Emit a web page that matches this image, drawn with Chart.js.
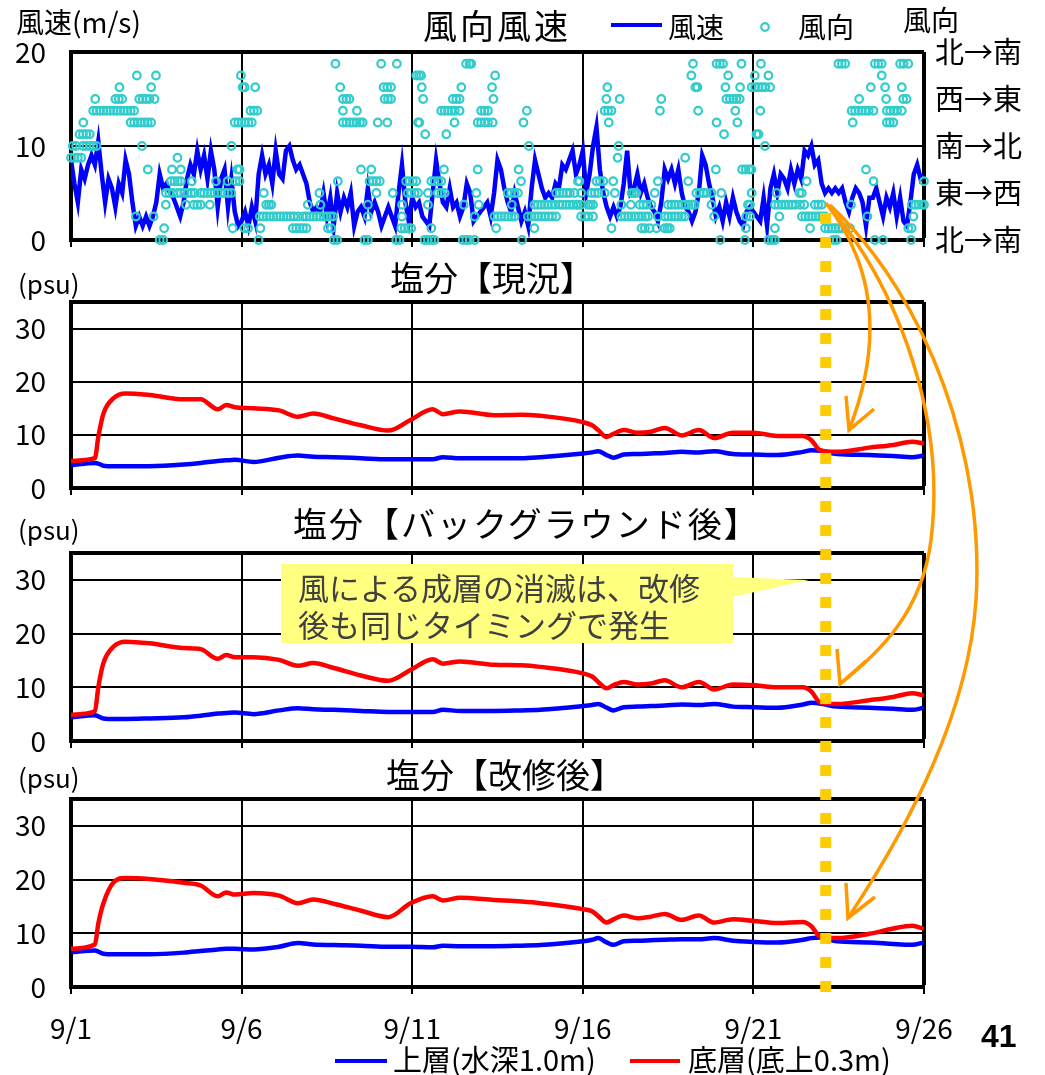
<!DOCTYPE html>
<html>
<head>
<meta charset="utf-8">
<script src="https://cdn.jsdelivr.net/npm/chart.js@4/dist/chart.umd.min.js"></script>
<style>
body { margin:0; background:#fff; width:1045px; height:1075px; position:relative; overflow:hidden; font-family:"Noto Sans CJK JP", sans-serif; }
canvas { position:absolute; left:0; }
.t { position:absolute; white-space:nowrap; color:#000; line-height:1; }
#ov { position:absolute; left:0; top:0; }
#callout { position:absolute; left:281px; top:564px; width:452px; height:79px; background:#ffff80; color:#404040; font-size:31px; line-height:37px; padding:4px 0 0 17px; box-sizing:border-box; white-space:nowrap; }
</style>
</head>
<body>
<canvas id="wind" style="top:0" width="1045" height="285"></canvas>
<canvas id="salNow" style="top:257px" width="1045" height="276"></canvas>
<canvas id="salBg" style="top:508px" width="1045" height="278"></canvas>
<canvas id="salNew" style="top:754px" width="1045" height="294"></canvas>

<svg id="ov" width="1045" height="1075"></svg>

<div class="t" style="left:16px;top:7px;font-size:28px">風速(m/s)</div>
<div class="t" style="left:423px;top:8px;font-size:34px;letter-spacing:3px">風向風速</div>
<div class="t" style="left:668px;top:12px;font-size:28px">風速</div>
<div class="t" style="left:798px;top:12px;font-size:28px">風向</div>
<div class="t" style="left:903px;top:5px;font-size:28px">風向</div>

<div class="t" style="left:18px;top:270px;font-size:26px">(psu)</div>
<div class="t" style="left:390px;top:260px;font-size:34px">塩分【現況】</div>
<div class="t" style="left:18px;top:516px;font-size:26px">(psu)</div>
<div class="t" style="left:293px;top:506px;font-size:34px;letter-spacing:2px">塩分【バックグラウンド後】</div>
<div class="t" style="left:18px;top:764px;font-size:26px">(psu)</div>
<div class="t" style="left:386px;top:757px;font-size:34px">塩分【改修後】</div>

<div class="t" style="left:393px;top:1044px;font-size:29px">上層(水深1.0m)</div>
<div class="t" style="left:688px;top:1044px;font-size:29px">底層(底上0.3m)</div>
<div class="t" style="left:981px;top:1020px;font-size:32px;font-weight:bold;font-family:'Liberation Sans',Arial,sans-serif">41</div>

<div id="callout">風による成層の消滅は、改修<br>後も同じタイミングで発生</div>

<script>
// ---- wind speed (m/s), one value every 0.1 day from 9/1 00:00
const windStep = 0.1;
const windSpeed = [
  8.5,6,4,7.5,6.5,8,9,8,10.5,7, 4,6.5,5.5,3.5,6,5,8.5,7,4,1.5, 2.5,1.5,2.5,1.5,2.5,4,7,5.5,6,5,
  4.5,3.5,2.5,4,6.5,8,7,9.5,7.5,9, 6.5,9.5,7.5,3.5,6.5,7.5,3.5,6.5,3,1.5,
  2,3,1.5,3.5,2,7,9,7,8,6, 9.5,7,6.5,9.5,10,8.5,7.5,8,7,6, 4,3,3.5,3,5,2.5,4.5,1.5,5,3,
  4.5,3.5,5,1.5,3,3.5,2.5,5.5,3,4, 3,1.5,2.5,3.5,2.5,1.5,5,8,4,2,
  4.5,3.5,4,2.5,2,1.5,5,8.5,6,4, 3.5,5.5,3.5,4,2.5,3.5,6,5,2,2.5, 3,3.5,4,2.5,5,8.5,7.5,5.5,4,3,
  5,3.5,2,3,1.5,5.5,8.5,7,5.5,4.5, 5,4.5,6,5.5,8,7.5,8.5,9.5,7,8,
  9.5,5,7,10,12,7.5,5,3.5,2.5,3.5, 2.5,3.5,6,9.5,5,5.5,7,5,6,4.5, 3.5,3,2,4,7.5,6.5,7.5,6,7.5,5,
  3.5,3,2,3,5,9,8,6,4.5,2.5, 3.5,2,4,2.5,4.5,3,2,1.5,3,3.5,
  3,2.5,2,4.5,1.5,5.5,7,5,7,6.5, 5.5,7.5,6,7.5,6.5,9.5,9,10,8,8.5, 6,5,5.5,5,5.5,5,5.5,4,3,4.5,
  5.5,5,4,1.5,4.5,4.5,5.5,4,2.5,4.5, 3.5,5,2.5,4.5,2,1.5,4,7,8,6.5, 7
];

// ---- wind direction: days (from 9/1) observed in each of 16 classes (0 = 北→南, 4 = 東→西, 8 = 南→北, 12 = 西→東)
const windDirByClass = [
  [2.6,2.7,5.5,7.7,7.8,8.6,8.7,9.53,9.63,10.36,10.46,10.56,10.65,11.48,11.58,11.68,11.83,13.22,19.03,19.75,20.44,20.54,20.63,22.34,22.44,23.56,23.8,24.62],
  [2.73,4.74,5.08,5.19,5.55,6.5,6.6,6.7,6.8,6.9,7.53,7.63,9.68,9.78,9.88,9.97,10.56,12.46,13.58,15.84,16.72,16.82,16.96,17.16,17.4,17.48,17.55,19.78,20.63,21.66,22.1,22.2,22.3,22.4,22.5,22.6,22.7,22.83,24.54,24.64],
  [1.9,2.42,5.53,5.63,5.73,5.83,5.93,6.03,6.13,6.23,6.33,6.43,6.53,6.65,6.8,6.9,7.0,7.1,7.2,7.3,7.4,7.5,7.6,7.68,8.7,9.7,11.83,12.41,12.51,12.61,12.71,12.81,12.91,13.0,13.39,13.49,13.59,13.69,13.79,13.89,14.0,14.1,14.22,14.95,15.06,15.16,15.3,16.13,16.23,16.33,16.43,16.53,16.63,16.73,16.83,16.91,17.2,17.4,17.5,17.6,17.7,17.8,17.9,17.99,18.85,19.79,19.9,20.76,21.42,21.52,21.62,21.72,21.82,21.92,22.02,22.1,23.34,24.69],
  [2.78,3.37,3.6,3.7,3.8,4.07,5.72,5.8,5.87,6.94,7.31,8.7,9.7,10.46,11.51,11.95,12.92,13.58,13.68,13.78,13.88,13.98,14.08,14.18,14.32,14.41,14.51,14.61,14.71,14.81,14.86,14.95,15.16,15.23,15.3,16.13,16.41,16.67,16.77,16.87,17.01,17.5,17.6,17.7,17.8,17.9,18.0,18.1,18.2,18.28,18.77,19.84,19.9,20.63,20.73,20.83,20.93,21.03,21.13,21.23,21.37,21.49,21.8,21.9,22.0,22.86,24.64,24.74,24.84,24.94,25.0],
  [2.78,2.88,2.98,3.12,3.22,3.32,3.42,3.52,3.62,3.8,3.9,4.0,4.1,4.2,4.3,4.4,4.5,4.6,4.7,5.65,7.28,8.95,9.43,9.87,9.97,10.07,10.17,10.46,10.75,10.85,10.95,11.88,12.8,12.9,13.0,13.1,14.22,14.32,14.42,14.52,14.62,14.76,14.95,15.25,15.35,15.45,15.64,15.94,16.43,16.5,16.57,17.11,18.33,18.43,18.53,18.63,18.77,19.06,19.95,20.68,21.35,21.42],
  [2.93,3.03,3.13,3.22,3.54,4.25,4.59,4.83,4.94,7.82,8.75,8.85,8.95,9.05,9.82,9.92,10.02,10.12,10.56,10.66,10.76,10.85,13.19,14.86,14.9,15.4,15.5,15.6,15.89,17.2,18.09,21.56,23.52,25.0],
  [2.25,2.96,3.22,4.88,4.94,8.5,8.8,10.93,11.92,13.12,18.9,19.67,19.77,19.87,19.94,23.3],
  [0.0,0.1,0.2,0.3,3.12,16.02,18.0],
  [0.05,0.15,0.35,0.45,0.55,0.65,0.75,2.08,4.7,13.42,16.05,20.34],
  [0.25,0.35,0.45,0.55,10.38,11.0,19.14,20.09,20.15],
  [0.36,1.75,1.85,1.95,2.05,2.15,2.25,2.35,4.8,4.9,5.0,5.1,5.2,5.3,7.97,8.07,8.17,8.27,8.37,8.47,8.55,8.99,9.27,10.17,10.21,11.24,11.92,12.02,12.12,12.22,12.36,13.26,15.76,18.92,19.53,22.91,23.91,24.0,24.1],
  [0.65,0.75,0.85,0.95,1.05,1.15,1.25,1.35,1.45,1.55,1.65,1.75,1.85,5.26,5.36,5.46,7.97,8.38,10.85,10.95,11.05,11.15,11.25,11.39,12.02,12.12,12.22,13.36,15.64,15.74,15.84,17.26,18.38,19.47,20.2,22.88,22.98,23.08,23.18,23.28,23.38,23.52,23.91,24.01,24.11,24.21,24.35],
  [0.71,1.3,1.4,1.5,2.0,2.1,2.2,2.3,2.45,7.97,8.07,8.16,9.19,9.29,9.38,10.32,11.19,11.29,11.39,12.38,15.69,16.08,17.3,19.21,19.31,19.41,19.5,19.6,23.1,23.89,24.39,24.49],
  [1.42,2.35,5.03,5.09,5.4,7.89,9.16,9.27,9.38,10.28,11.44,12.34,15.72,18.3,18.36,19.18,19.61,19.95,20.05,20.15,20.25,20.35,20.49,23.44,23.86,24.35],
  [1.93,2.49,4.98,10.12,10.2,10.26,12.43,18.18,19.26,20.04,20.44,23.76],
  [7.75,9.09,9.55,11.58,11.68,11.73,18.23,18.92,19.02,19.11,19.65,20.22,22.49,22.59,22.69,23.56,23.66,23.76,24.3,24.4,24.54]
];
const dirLabels = ['北→南', '東→西', '南→北', '西→東', '北→南'];

// ---- salinity (psu), days from 9/1
const salDays = [0,0.7,0.8,0.95,1.25, 1.6,2.3,3.3,3.8,4.3, 4.55,4.8,5.35,6.1,6.65, 7.1,7.7,8.5,9.3,9.95,
  10.6,10.9,11.4,12.4,13.2, 13.75,15.0,15.27,15.45,15.7, 15.9,16.2,16.6,17.0,17.4, 17.9,18.4,18.85,19.4,20.0,
  20.7,21.45,21.7,21.95,22.45, 23.4,24.1,24.65,25.0];

const nowBottom = [5.1,5.6,9.6,14.0,16.9, 17.8,17.5,16.7,16.7,14.8, 15.6,15.2,15.0,14.6,13.4, 14.0,13.1,11.8,10.8,12.8,
  14.8,13.9,14.4,13.7,13.8, 13.6,12.4,11.8,10.9,9.6, 10.2,10.9,10.4,10.6,11.3, 9.9,10.9,9.4,10.4,10.4,
  9.8,9.8,9.0,7.1,6.8, 7.6,8.1,8.7,8.4];
const nowSurface = [4.3,4.7,4.6,4.2,4.1, 4.1,4.1,4.4,4.7,5.1, 5.2,5.3,4.9,5.7,6.1, 5.9,5.8,5.6,5.4,5.4,
  5.4,5.8,5.6,5.6,5.6, 5.8,6.5,6.7,6.9,6.2, 5.7,6.3,6.4,6.5,6.6, 6.8,6.7,6.9,6.4,6.3,
  6.2,6.8,7.1,7.0,6.4, 6.2,6.0,5.8,6.1];

const bgBottom = [4.9,5.5,10.0,14.5,17.6, 18.5,18.2,17.3,17.1,15.3, 16.0,15.6,15.6,15.1,14.0, 14.5,13.6,12.2,11.2,13.2,
  15.2,14.4,14.8,14.2,14.1, 13.8,12.6,12.0,11.0,9.8, 10.4,11.0,10.5,10.7,11.3, 10.0,11.0,9.6,10.5,10.4,
  10.0,10.0,9.2,7.2,6.9, 7.6,8.2,8.9,8.5];
const bgSurface = [4.4,4.8,4.6,4.2,4.1, 4.1,4.2,4.4,4.7,5.1, 5.2,5.3,5.0,5.7,6.1, 5.9,5.8,5.6,5.4,5.4,
  5.4,5.8,5.6,5.6,5.7, 5.8,6.5,6.7,6.9,6.2, 5.7,6.3,6.4,6.5,6.6, 6.8,6.7,6.9,6.4,6.3,
  6.2,6.8,7.1,7.0,6.4, 6.2,6.0,5.8,6.2];

const newBottom = [7.1,7.9,11.8,15.6,19.5, 20.3,20.1,19.4,18.9,16.9, 17.6,17.2,17.5,17.0,15.6, 16.3,15.5,14.2,13.0,15.6,
  16.9,16.1,16.6,16.2,15.9, 15.6,14.5,14.1,13.2,12.0, 12.6,13.3,12.8,13.1,13.6, 12.5,13.3,12.0,12.6,12.3,
  11.9,12.1,11.3,9.4,9.1, 9.9,10.9,11.4,10.8];
const newSurface = [6.5,6.8,6.6,6.2,6.1, 6.1,6.1,6.4,6.7,7.0, 7.1,7.1,7.0,7.5,8.2, 7.9,7.8,7.7,7.5,7.5,
  7.4,7.7,7.6,7.6,7.7, 7.8,8.5,8.8,9.1,8.3, 7.85,8.5,8.6,8.7,8.8, 8.9,8.9,9.1,8.6,8.4,
  8.3,8.8,9.1,9.2,8.5, 8.3,8.0,7.85,8.3];

// y tick values (the last one is the frame top, unlabeled on salinity panels)
const windTicks = [0, 10, 20];
const salTicks = [0, 10, 20, 30, 35];

const eventDay = 22.12; // stratification breaks down

const FONT = '"Noto Sans CJK JP", sans-serif';
const BLUE = '#0000ff', RED = '#ff0000', CYAN = '#33cccc';

function xAxis(showLabels, h) {
  return {
    type: 'linear', min: 0, max: 25,
    ticks: {
      stepSize: 5, display: showLabels, color: '#000', padding: 18, maxRotation: 0, autoSkip: false,
      font: { size: 28, family: FONT },
      callback: v => '9/' + (v + 1)
    },
    grid: {
      color: '#000', lineWidth: c => (c.tick && c.tick.value === 25) ? 4 : 2,
      drawTicks: true, tickLength: 7, tickWidth: 2, tickColor: '#000'
    },
    border: { color: '#000', width: 4 },
    afterFit: s => { s.height = h; }
  };
}

function yAxis(tickVals) {
  const max = tickVals[tickVals.length - 1];
  return {
    min: 0, max: max,
    afterBuildTicks: s => { s.ticks = tickVals.map(v => ({ value: v })); },
    ticks: {
      color: '#000', padding: 25, autoSkip: false, font: { size: 28, family: FONT },
      callback: v => v > 30 ? '' : v
    },
    grid: { color: '#000', lineWidth: c => (c.tick && c.tick.value === max) ? 4 : 2, drawTicks: false },
    border: { color: '#000', width: 4 },
    afterFit: s => { s.width = 71; }
  };
}

const common = {
  responsive: false, animation: false, events: [],
  plugins: { legend: { display: false }, tooltip: { enabled: false } }
};

function line(data, color) {
  return { type: 'line', data: salDays.map((d, i) => ({ x: d, y: data[i] })), borderColor: color,
    borderWidth: 4.5, pointRadius: 0, cubicInterpolationMode: 'monotone' };
}

// wind chart
const dirPoints = [];
windDirByClass.forEach((days, cls) => days.forEach(d => dirPoints.push({ x: d, y: cls })));

new Chart(document.getElementById('wind'), {
  type: 'line',
  data: {
    datasets: [
      { type: 'scatter', data: dirPoints, yAxisID: 'y2', pointStyle: 'circle', pointRadius: 3.8,
        borderWidth: 2.2, borderColor: CYAN, backgroundColor: 'rgba(0,0,0,0)', clip: false },
      { type: 'line', data: windSpeed.map((v, i) => ({ x: +(i * windStep).toFixed(2), y: v })), yAxisID: 'y',
        borderColor: BLUE, borderWidth: 4.5, pointRadius: 0, tension: 0 }
    ]
  },
  options: Object.assign({}, common, {
    layout: { padding: { top: 52, left: 0, right: 0, bottom: 0 } },
    scales: {
      x: xAxis(false, 45),
      y: yAxis(windTicks),
      y2: {
        position: 'right', min: 0, max: 16,
        ticks: { stepSize: 4, color: '#000', padding: 11, autoSkip: false, font: { size: 29, family: FONT }, callback: v => dirLabels[v / 4] },
        grid: { display: false, drawTicks: false },
        border: { display: false },
        afterFit: s => { s.width = 121; }
      }
    }
  })
});

function salChart(id, xh, bottom, surface, showLabels) {
  return new Chart(document.getElementById(id), {
    type: 'line',
    data: { datasets: [line(bottom, RED), line(surface, BLUE)] },
    options: Object.assign({}, common, {
      layout: { padding: { top: 45, left: 0, right: 121, bottom: 0 } },
      scales: { x: xAxis(showLabels, xh), y: yAxis(salTicks) }
    })
  });
}

salChart('salNow', 45, nowBottom, nowSurface, false);
salChart('salBg', 45, bgBottom, bgSurface, false);
const last = salChart('salNew', 61, newBottom, newSurface, true);

// overlay: legend marks, event line, callout pointer, arrows
const NS = 'http://www.w3.org/2000/svg';
const ov = document.getElementById('ov');
function el(tag, attrs) {
  const e = document.createElementNS(NS, tag);
  for (const k in attrs) e.setAttribute(k, attrs[k]);
  ov.appendChild(e);
  return e;
}
el('line', { x1: 611, y1: 25, x2: 662, y2: 25, stroke: BLUE, 'stroke-width': 4 });
el('circle', { cx: 765, cy: 27, r: 3.8, fill: 'none', stroke: CYAN, 'stroke-width': 2.2 });
el('line', { x1: 335, y1: 1061, x2: 387, y2: 1061, stroke: BLUE, 'stroke-width': 4 });
el('line', { x1: 630, y1: 1061, x2: 680, y2: 1061, stroke: RED, 'stroke-width': 4 });

const ex = last.scales.x.getPixelForValue(eventDay);
el('line', { x1: ex, y1: 213, x2: ex, y2: 996, stroke: '#ffcc00', 'stroke-width': 11, 'stroke-dasharray': '11 13' });

el('polygon', { points: '732,577 732,597 809,580', fill: '#ffff80' });

const arrows = [
  { d: 'M 826 203 C 872 262, 886 335, 849 430', tip: [849, 430], b1: [846, 396], b2: [874, 409] },
  { d: 'M 828 205 C 900 290, 946 420, 931 540 C 922 612, 880 652, 840 684', tip: [840, 684], b1: [837, 649], b2: [866, 661] },
  { d: 'M 830 205 C 930 300, 985 460, 976 600 C 968 720, 900 840, 848 918', tip: [848, 918], b1: [846, 883], b2: [875, 897] }
];
arrows.forEach(a => {
  el('path', { d: a.d, fill: 'none', stroke: '#ff9900', 'stroke-width': 3.5 });
  el('polyline', { points: `${a.b1} ${a.tip} ${a.b2}`, fill: 'none', stroke: '#ff9900', 'stroke-width': 3.5, 'stroke-linejoin': 'miter' });
});
</script>
</body>
</html>
